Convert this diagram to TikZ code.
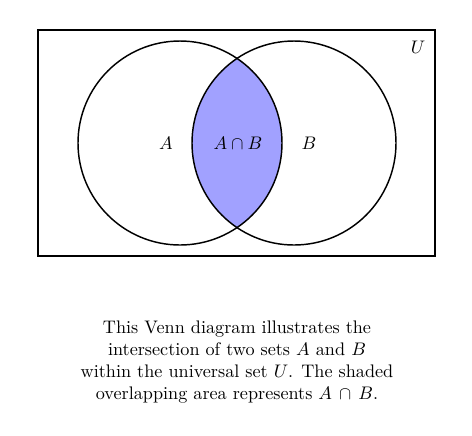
\documentclass[tikz,border=0pt]{standalone}
\begin{document}
\begin{tikzpicture}[x=0.55pt,y=-0.55pt]
		\useasboundingbox (0,0) rectangle (472,435);
		\begin{scope}
			\clip (180,143) circle (102);
			\fill[blue!37] (294,143) circle (102);
		\end{scope}
		\draw[thick] (38,30) rectangle (435,256);
		\draw[thick] (180,143) circle (102);
		\draw[thick] (294,143) circle (102);
		\node (labU) at (418,47) {$U$};
		\node (labA) at (166,143) {$A$};
		\node (labAB) at (238,143) {$A\cap B$};
		\node (labB) at (309,143) {$B$};
		\node[align=center] (caption) at (237,362) {This Venn diagram illustrates the\\
			intersection of two sets $A$ and $B$\\
			within the universal set $U$. The shaded\\
			overlapping area represents $A\,\cap\,B$.};
	\end{tikzpicture}
\end{document}
